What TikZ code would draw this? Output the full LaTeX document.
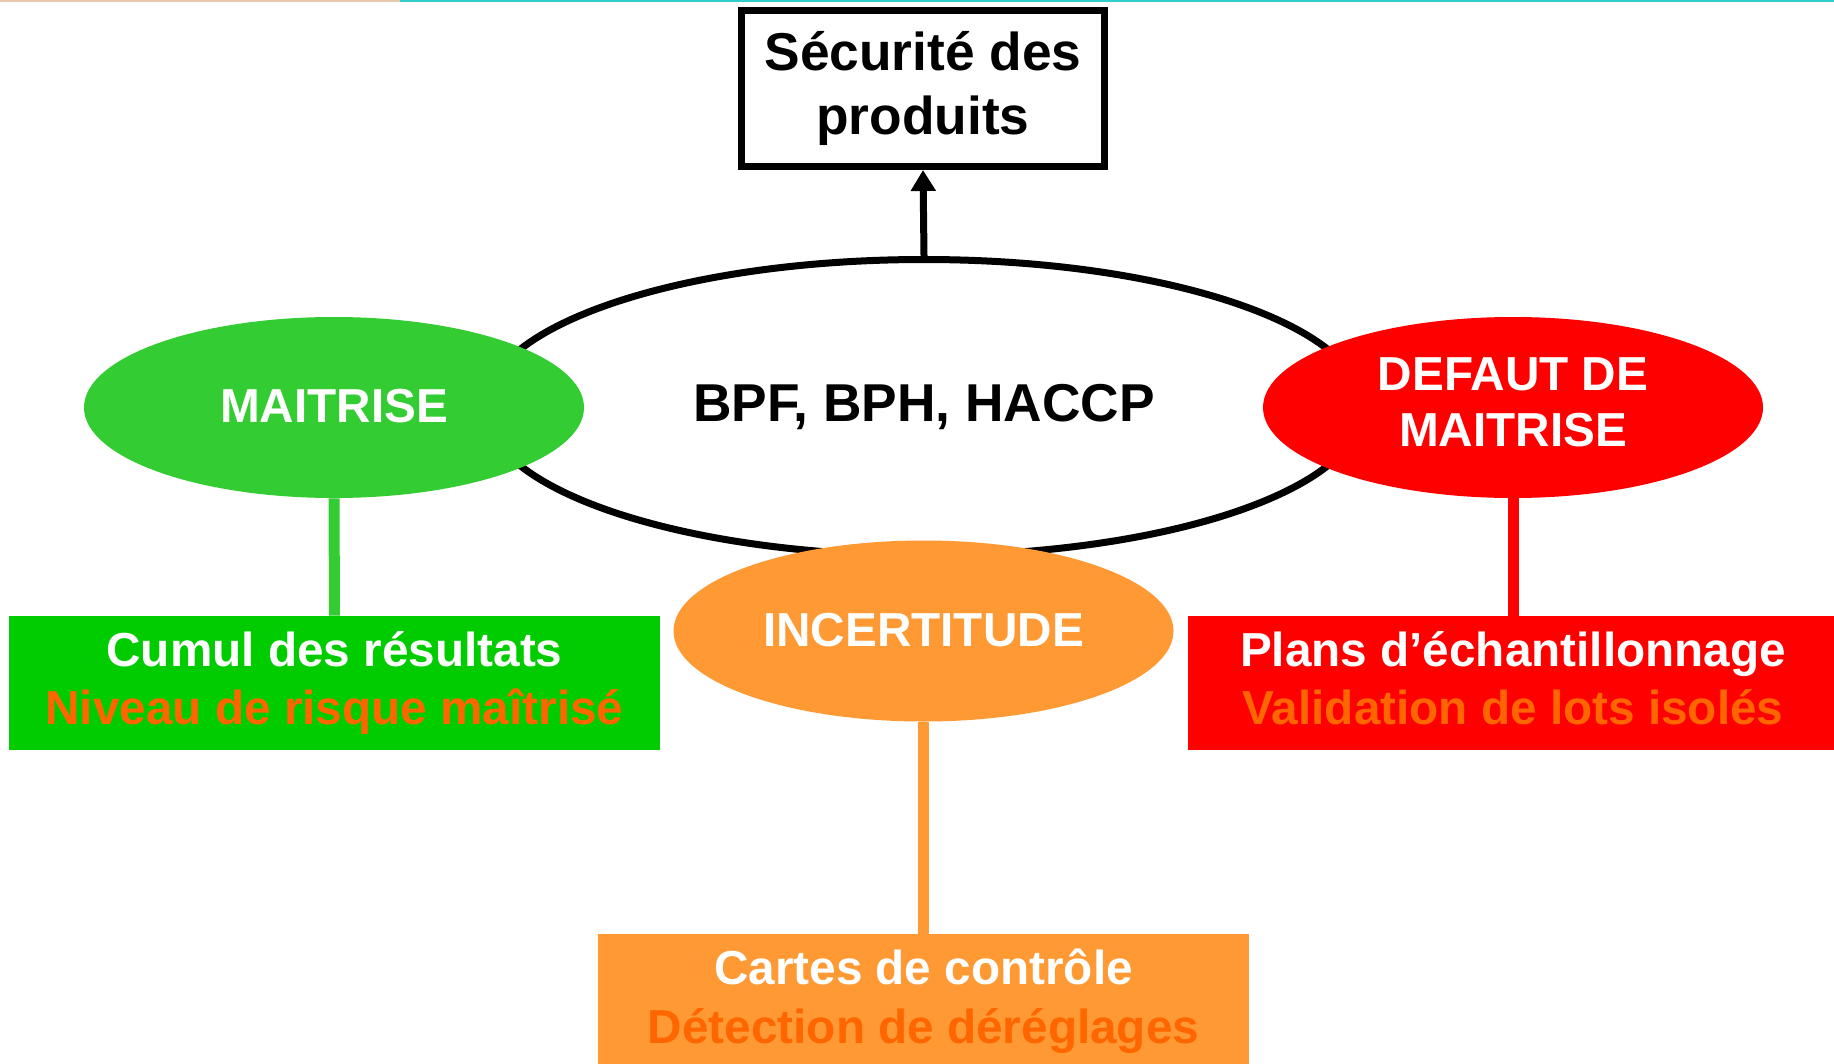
\documentclass[tikz,border=0pt]{standalone}
\usepackage{fontspec}
\setmainfont{Liberation Sans}
\usetikzlibrary{shapes.geometric,arrows.meta}
\definecolor{ellgreen}{HTML}{33CC33}
\definecolor{boxgreen}{HTML}{00CC00}
\definecolor{myred}{HTML}{FF0000}
\definecolor{myorange}{HTML}{FF9933}
\definecolor{txtorange}{HTML}{FF6600}
\definecolor{teal}{HTML}{33CCCC}
\definecolor{peach}{HTML}{E8C8B0}
\begin{document}
\begin{tikzpicture}[x=0.5pt,y=-0.5pt,
  bigfont/.style={font=\fontsize{26.65}{32}\selectfont\bfseries},
  smallfont/.style={font=\fontsize{23.85}{28}\selectfont\bfseries},
  boxfont/.style={font=\fontsize{23.85}{29.25}\selectfont\bfseries},
  colell/.style={ellipse, minimum width=250pt, minimum height=90.5pt, inner sep=0pt,
    text=white, smallfont, align=center},
  colbox/.style={rectangle, minimum width=325.5pt, minimum height=67pt, inner sep=0pt,
    text=white, boxfont, align=center},
  link/.style={line width=5.5pt}
]
\path[use as bounding box, clip] (0,0) rectangle (1834,1064);
\fill[white] (0,0) rectangle (1834,1064);
% thin top strip
\fill[peach] (0,0) rectangle (400,2);
\fill[teal] (400,0) rectangle (1834,2);

% central ellipse
\node[ellipse, draw=black, line width=3.5pt, minimum width=439pt, minimum height=148pt,
  inner sep=0pt, bigfont] (core) at (924,407.5) {BPF, BPH, HACCP};

% title box
\node[rectangle, draw=black, line width=3.5pt, minimum width=181.5pt, minimum height=78pt,
  inner sep=0pt, bigfont, align=center] (title) at (923,88.5) {Sécurité des\\produits};
\draw[line width=3.5pt, -{Triangle[length=10.5pt,width=12pt]}] (core.north) -- (title.south);

% boxes
\node[colbox, fill=boxgreen] (gbox) at (334.5,683) {Cumul des résultats\\\textcolor{txtorange}{Niveau de risque maîtrisé}};
\node[colbox, fill=myred] (rbox) at (1513,683) {Plans d’échantillonnage\\\textcolor{txtorange}{Validation de lots isolés\vphantom{q}}};
\node[colbox, fill=myorange] (obox) at (923.5,1001) {Cartes de contrôle\\\textcolor{txtorange}{Détection de déréglages}};

% coloured ellipses
\node[colell, fill=ellgreen] (gell) at (334,407.5) {\raisebox{1.2pt}{MAITRISE}};
\node[colell, fill=myred] (rell) at (1513,407.5) {DEFAUT DE\\MAITRISE\vphantom{q}};
\node[colell, fill=myorange] (oell) at (923.5,631) {\raisebox{1.2pt}{INCERTITUDE}};

% connectors
\draw[link, draw=ellgreen] (gell.south) -- (gbox.north);
\draw[link, draw=myred] (rell.south) -- (rbox.north);
\draw[link, draw=myorange] (oell.south) -- (obox.north);
\end{tikzpicture}
\end{document}
